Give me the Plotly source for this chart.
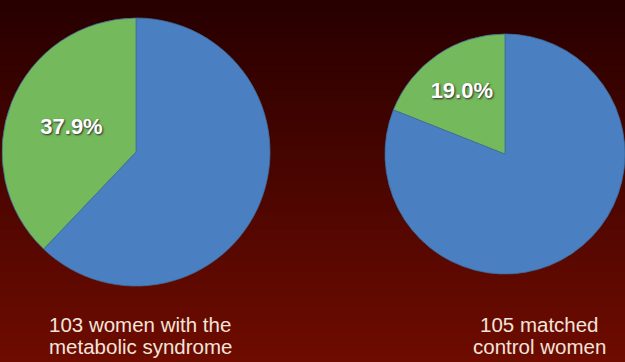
import plotly.graph_objects as go

# ---- data ----
group_lines = [["103 women with the", "metabolic syndrome"], ["105 matched", "control women"]]
slice_names = ["Without condition", "With condition"]
left_values = [62.1, 37.9]
right_values = [81.0, 19.0]
left_text = ["", "37.9%"]
right_text = ["", "19.0%"]

W, H = 625, 362
GREEN = "#74b95c"
BLUE = "#4a7fc2"

def dom(cx, cy, r):
    return dict(x=[(cx - r) / W, (cx + r) / W], y=[(H - (cy + r)) / H, (H - (cy - r)) / H])

fig = go.Figure()
for vals, txt, (cx, cy, r) in [(left_values, left_text, (136, 152, 134)),
                               (right_values, right_text, (505, 154, 120))]:
    fig.add_trace(go.Pie(
        labels=slice_names, values=vals, text=txt,
        textinfo="text", textposition="inside", insidetextorientation="horizontal",
        sort=False, direction="clockwise", rotation=0,
        marker=dict(colors=[BLUE, GREEN], line=dict(color="#3d6e9e", width=0.8)),
        textfont=dict(family="Liberation Sans, Arial, sans-serif", size=22, color="#ffffff",
                      weight="bold", shadow="1px 1px 2px #2a2a2a"),
        domain=dom(cx, cy, r), showlegend=False, hoverinfo="label+percent",
    ))

# background vertical gradient
shapes = []
N = 60
top = (40, 0, 0)
bot = (110, 12, 0)
for i in range(N):
    t = i / (N - 1)
    c = tuple(int(top[k] + (bot[k] - top[k]) * t) for k in range(3))
    shapes.append(dict(type="rect", xref="paper", yref="paper", x0=0, x1=1,
                       y0=1 - (i + 1) / N, y1=1 - i / N + 0.002,
                       fillcolor="rgb(%d,%d,%d)" % c, line=dict(width=0), layer="below"))

annotations = []
for lines, cx in zip(group_lines, [140, 539]):
    for j, line in enumerate(lines):
        annotations.append(dict(text=line, x=cx / W, y=(H - (324 + 22 * j)) / H,
                                xref="paper", yref="paper", showarrow=False,
                                xanchor="center", yanchor="middle",
                                font=dict(family="Liberation Sans, Arial, sans-serif",
                                          size=20.5, color="#f3e4dc")))

fig.update_layout(width=W, height=H, margin=dict(l=0, r=0, t=0, b=0),
                  paper_bgcolor="#4a0500", plot_bgcolor="rgba(0,0,0,0)",
                  shapes=shapes, annotations=annotations)
fig.write_html("out.html", config={"displayModeBar": False},
               post_script="document.body.style.margin='0';")
